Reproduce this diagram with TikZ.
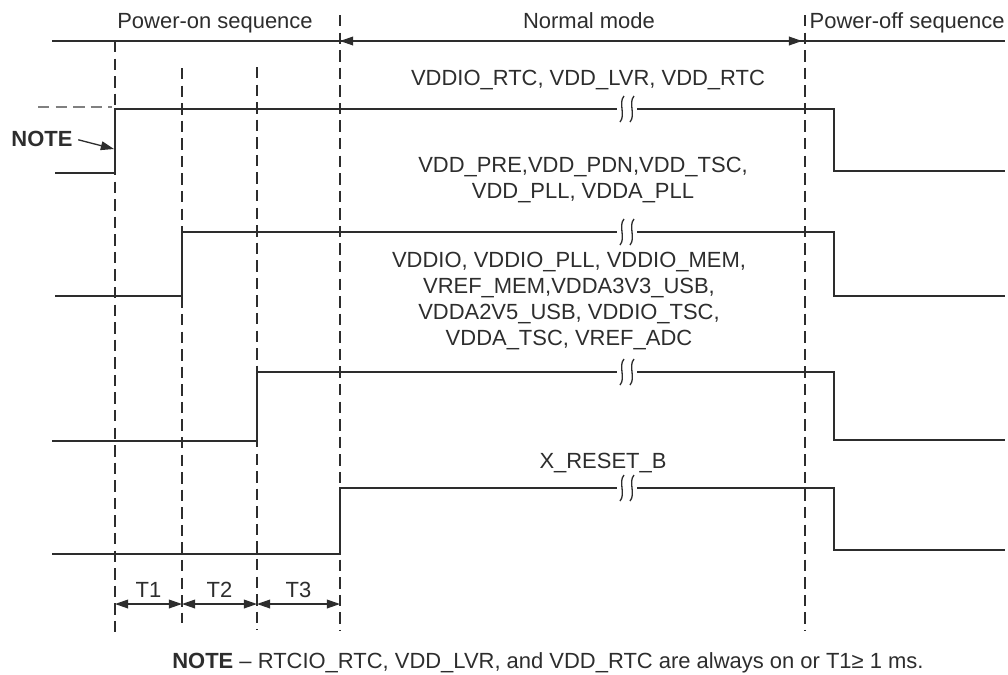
\documentclass[tikz,border=0pt]{standalone}
\usepackage{fontspec}
\setmainfont{Liberation Sans}
\usetikzlibrary{arrows.meta}
\definecolor{ink}{RGB}{45,45,45}

\begin{document}
\begin{tikzpicture}[x=0.02cm,y=-0.02cm,line width=0.75pt,color=ink,
    font=\fontsize{12.5}{14.8}\selectfont,
    markline/.style={dash pattern=on 6.5pt off 3.5pt,line width=0.7pt},
    tip/.style={-{Triangle[length=7.5pt,width=5pt]}},
    bothtips/.style={{Triangle[length=7.5pt,width=5pt]}-{Triangle[length=7.5pt,width=5pt]}},
    lbl/.style={inner sep=0pt,anchor=base,align=center}]
        \useasboundingbox (0,0) rectangle (1008,674);
        \def\ta{115} \def\tb{182} \def\tc{257} \def\td{340} \def\te{805} \def\tf{834}
        \def\xend{1005}
        \def\brk#1{\draw (624,#1-13) .. controls (618,#1-6) and (626,#1+6) .. (620,#1+13);
                   \draw (634,#1-13) .. controls (628,#1-6) and (636,#1+6) .. (630,#1+13);}
        % sequence axis
        \draw (52,41) -- (\xend,41);
        \draw[bothtips] (\td,41) -- (802,41);
        \node[lbl] (poweron) at (215,28) {Power-on sequence};
        \node[lbl] (normal) at (589,28) {Normal mode};
        \node[lbl,anchor=base west] (poweroff) at (809,28) {Power-off sequence};
        % time marks
        \draw[markline] (\ta,41) -- (\ta,633);
        \draw[markline] (\tb,68) -- (\tb,623);
        \draw[markline] (\tc,67) -- (\tc,630);
        \draw[markline] (\td,15) -- (\td,630);
        \draw[markline] (\te,15) -- (\te,630);
        % supplies
        \draw[markline,gray] (38,107) -- (112,107);
        \draw (55,173) -- (\ta,173) -- (\ta,109) -- (617,109);
        \draw (637,109) -- (\tf,109) -- (\tf,171) -- (\xend,171);
        \brk{109}
        \draw (55,296) -- (\tb,296) -- (\tb,232) -- (617,232);
        \draw (637,232) -- (\tf,232) -- (\tf,296) -- (\xend,296);
        \brk{232}
        \draw (52,441) -- (\tc,441) -- (\tc,372) -- (617,372);
        \draw (637,372) -- (\tf,372) -- (\tf,440) -- (\xend,440);
        \brk{372}
        \draw (52,554) -- (\td,554) -- (\td,488) -- (617,488);
        \draw (637,488) -- (\tf,488) -- (\tf,550) -- (\xend,550);
        \brk{488}
        \node[lbl] (rtc) at (588,85) {VDDIO\_RTC, VDD\_LVR, VDD\_RTC};
        \node[lbl] (core) at (583,198) {VDD\_PRE,VDD\_PDN,VDD\_TSC,\\VDD\_PLL, VDDA\_PLL};
        \node[lbl] (io) at (569,345) {VDDIO, VDDIO\_PLL, VDDIO\_MEM,\\VREF\_MEM,VDDA3V3\_USB,\\VDDA2V5\_USB, VDDIO\_TSC,\\VDDA\_TSC, VREF\_ADC};
        \node[lbl] (rst) at (603,468) {X\_RESET\_B};
        % note pointer
        \node[lbl,font=\fontsize{12.5}{14.8}\selectfont\bfseries] (note) at (42,146) {NOTE};
        \coordinate (notetip) at (114,149);
        \draw[tip,shorten <=3pt] (note.east) -- (notetip);
        % intervals
        \foreach \a/\b/\n in {\ta/\tb/T1,\tb/\tc/T2,\tc/\td/T3} {
            \draw[bothtips] (\a,604) -- (\b,604);
            \node[lbl] (\n) at ({(\a+\b)/2},597) {\n};
        }
        \node[lbl] (footnote) at (548,668) {\textbf{NOTE} – RTCIO\_RTC, VDD\_LVR, and VDD\_RTC are always on or T1≥ 1 ms.};
  \end{tikzpicture}
\end{document}
